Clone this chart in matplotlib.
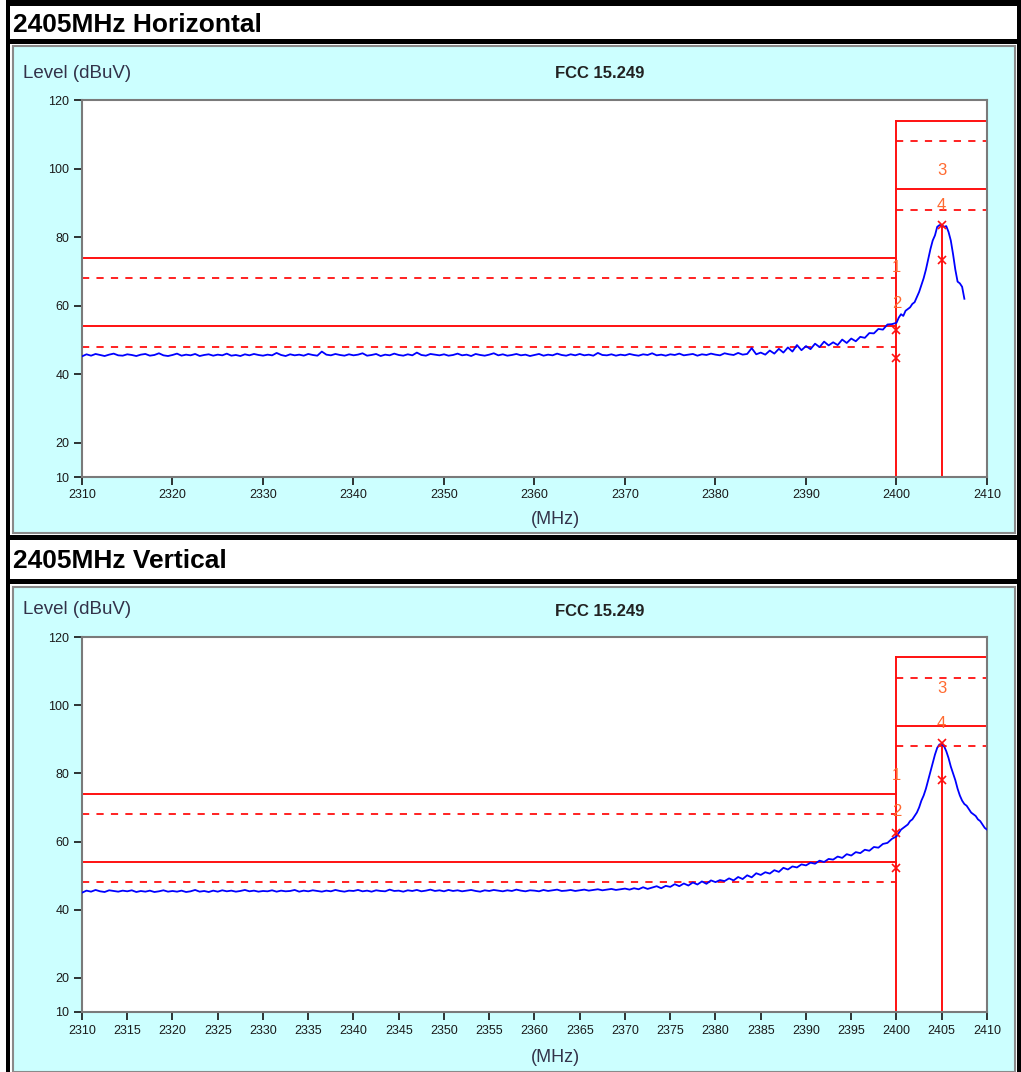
import numpy as np
import matplotlib
matplotlib.use('Agg')
import matplotlib.pyplot as plt
from matplotlib.patches import Rectangle

# ---- data ----
titles = ['2405MHz Horizontal', '2405MHz Vertical']
x_ticks_top = [2310, 2320, 2330, 2340, 2350, 2360, 2370, 2380, 2390, 2400, 2410]
x_ticks_bot = list(range(2310, 2411, 5))
y_ticks = [10, 20, 40, 60, 80, 100, 120]

# limit lines (dBuV): restricted band (2310-2400) and fundamental (2400-2410)
band_limits = [74, 54]
band_margins = [68, 48]
fund_limits = [114, 94]
fund_margins = [108, 88]

# trace, horizontal: 0.5 MHz steps 2310..2399.5, then 0.25 MHz steps 2400..2407.5
horiz_low = [
    45.2, 45.8, 45.4, 45.9, 45.6, 45.3, 45.7, 46.0, 45.5, 45.4,
    45.8, 45.6, 45.3, 45.7, 45.9, 45.4, 45.6, 46.1, 45.5, 45.3,
    45.6, 46.0, 45.4, 45.7, 45.5, 45.9, 45.3, 45.6, 45.8, 45.4,
    45.7, 45.5, 46.0, 45.4, 45.6, 45.3, 45.8, 45.5, 45.9, 45.6,
    45.4, 45.7, 45.5, 46.2, 45.6, 45.3, 45.8, 45.5, 45.7, 45.4,
    45.9, 45.6, 45.4, 46.6, 45.7, 45.5, 45.9, 45.6, 45.4, 45.8,
    45.5, 45.7, 46.1, 45.4, 45.6, 45.9, 45.3, 45.7, 45.5, 46.0,
    45.6, 45.4, 45.8, 45.5, 46.3, 45.6, 45.4, 45.9, 45.7, 45.5,
    45.8, 45.4, 45.6, 46.0, 45.5, 45.7, 45.3, 45.9, 45.6, 45.4,
    45.7, 46.1, 45.5, 45.8, 45.4, 45.6, 45.9, 45.5, 45.7, 45.3,
    45.6, 45.9, 45.4, 45.7, 45.5, 46.0, 45.6, 45.4, 45.8, 45.5,
    45.9, 45.5, 45.7, 45.4, 46.2, 45.6, 45.5, 45.8, 45.4, 45.7,
    45.5, 45.9, 45.6, 45.4, 45.8, 45.6, 46.1, 45.5, 45.7, 45.4,
    45.8, 45.6, 46.0, 45.5, 45.7, 45.9, 45.4, 45.8, 45.6, 46.0,
    45.7, 45.5, 46.1, 45.8, 45.6, 46.2, 45.7, 45.9, 47.6, 45.8,
    46.3, 45.7, 46.9, 46.0, 47.4, 46.3, 47.8, 46.6, 48.5, 47.0,
    48.2, 47.3, 48.9, 47.9, 49.5, 48.4, 49.3, 48.5, 50.1, 49.1,
    50.4, 49.6, 50.9, 50.6, 52.0, 51.9, 53.2, 53.0, 54.5, 54.6,
]
horiz_high = [
    55.0, 56.5, 57.5, 57.0, 58.5, 59.0, 59.5, 60.5, 61.0, 62.5,
    64.0, 66.0, 68.0, 70.5, 73.5, 76.5, 79.0, 80.5, 83.0, 83.5,
    83.5, 83.0, 83.2, 81.5, 79.0, 75.0, 70.5, 67.0, 66.5, 65.5,
    62.0,
]

# trace, vertical: same grid, high part runs to 2410
vert_low = [
    45.0, 45.6, 45.3, 45.8, 45.4, 45.2, 45.7, 45.5, 45.3, 45.6,
    45.4, 45.7, 45.2, 45.5, 45.3, 45.6, 45.2, 45.4, 45.7, 45.3,
    45.5, 45.3, 45.6, 45.2, 45.4, 45.8, 45.3, 45.5, 45.2, 45.6,
    45.3, 45.7, 45.4, 45.6, 45.3, 45.5, 45.8, 45.4, 45.6, 45.3,
    45.5, 45.4, 45.7, 45.3, 45.6, 45.4, 45.5, 45.8, 45.3, 45.6,
    45.4, 45.7, 45.5, 45.3, 45.6, 45.4, 45.8, 45.5, 45.3, 45.6,
    45.5, 45.8, 45.4, 45.6, 45.3, 45.7, 45.5, 45.4, 45.9, 45.5,
    45.6, 45.3, 45.7, 45.5, 45.8, 45.4, 45.6, 45.9, 45.5, 45.7,
    45.4, 45.8, 45.5, 45.7, 45.4, 45.6, 45.8, 45.5, 45.3, 45.7,
    45.5, 45.8, 45.6, 45.4, 45.7, 45.5, 45.9, 45.6, 45.4, 45.7,
    45.6, 45.4, 45.8, 45.5, 45.7, 45.9, 45.5, 45.6, 45.8, 45.5,
    45.7, 45.9, 45.6, 45.8, 46.0, 45.7, 45.9, 46.1, 45.8, 46.0,
    46.2, 45.9, 46.3, 46.0, 46.6, 46.1, 46.5, 46.9, 46.3, 47.0,
    46.7, 47.5, 46.9, 47.7, 47.1, 48.0, 47.4, 48.3, 47.6, 48.6,
    48.1, 48.7, 48.4, 49.2, 48.6, 49.6, 49.0, 50.1, 49.5, 50.7,
    50.2, 51.0, 50.6, 51.6, 51.1, 52.3, 51.8, 52.7, 52.4, 53.3,
    53.0, 53.8, 53.5, 54.4, 54.0, 54.9, 54.7, 55.6, 55.2, 56.3,
    55.9, 56.9, 56.6, 57.6, 57.3, 58.4, 58.2, 59.3, 59.6, 60.8,
]
vert_high = [
    61.5, 62.5, 63.5, 64.0, 64.5, 65.0, 66.0, 66.5, 67.5, 68.5,
    70.0, 72.0, 73.5, 75.5, 78.0, 80.5, 83.0, 85.5, 87.5, 88.5,
    88.5, 88.0, 86.5, 84.5, 82.0, 80.0, 78.0, 75.5, 73.5, 72.0,
    71.0, 70.5, 69.5, 68.5, 68.0, 67.5, 66.5, 66.0, 65.0, 64.0,
    63.5,
]

# markers (freq, level) and their number labels
horiz_marks = [(2400, 53.0), (2400, 44.7), (2405, 83.5), (2405, 73.2)]
horiz_labels = [(2400, 71.0, '1'), (2400, 60.5, '2'), (2405, 99.5, '3'), (2405, 89.2, '4')]
vert_marks = [(2400, 62.5), (2400, 52.3), (2405, 89.0), (2405, 78.0)]
vert_labels = [(2400, 79.5, '1'), (2400, 68.7, '2'), (2405, 105.0, '3'), (2405, 94.5, '4')]

W, H = 1021, 1072
FONT = 'Liberation Sans'
CYAN = '#ccffff'
RED = '#ff1010'
LBL = '#ff6a30'


def box(fig, x0, y0, x1, y1, color, edge=None, lw=0):
    """rectangle in pixel coords (y down)"""
    r = Rectangle((x0 / W, 1 - y1 / H), (x1 - x0) / W, (y1 - y0) / H,
                  transform=fig.transFigure, facecolor=color,
                  edgecolor=edge if edge else color, linewidth=lw, zorder=0)
    fig.add_artist(r)


def panel(fig, ax_top, ax_bot, ticks, freq, level, marks, labels):
    ax = fig.add_axes([82 / W, 1 - ax_bot / H, (987 - 82) / W, (ax_bot - ax_top) / H])
    ax.set_facecolor('white')
    ax.set_xlim(2310, 2410)
    ax.set_ylim(10, 120)
    for s in ax.spines.values():
        s.set_color('#7a7a7a')
        s.set_linewidth(1.5)
    ax.set_xticks(ticks)
    ax.set_yticks(y_ticks)
    ax.tick_params(direction='out', length=6, width=1.2, color='#111111',
                   labelsize=9, labelcolor='#1a1a1a', pad=3)
    for t in ax.get_xticklabels() + ax.get_yticklabels():
        t.set_fontfamily(FONT)

    # limit lines
    for v in band_limits:
        ax.plot([2310, 2400], [v, v], color=RED, lw=1.4)
    for v in band_margins:
        ax.plot([2310, 2400], [v, v], color=RED, lw=1.3, ls=(0, (4, 4)))
    for v in fund_limits:
        ax.plot([2400, 2410], [v, v], color=RED, lw=1.4)
    for v in fund_margins:
        ax.plot([2400, 2410], [v, v], color=RED, lw=1.3, ls=(0, (4, 4)))
    ax.plot([2400, 2400], [10, fund_limits[0]], color=RED, lw=1.4)
    ax.plot([2405, 2405], [10, marks[2][1]], color=RED, lw=1.4)

    ax.plot(freq, level, color='#0000ff', lw=1.3, zorder=3)

    for f, v in marks:
        ax.plot(f, v, marker='x', color=RED, ms=6, mew=1.2, zorder=4)
    for f, v, s in labels:
        ax.text(f, v, s, color=LBL, fontsize=12, ha='center', va='center',
                fontfamily=FONT, zorder=5)
    return ax


fig = plt.figure(figsize=(W / 100, H / 100), dpi=100)
fig.patch.set_facecolor('white')

# table frame
box(fig, 6, 0, 1021, 6, 'black')
box(fig, 6, 0, 10, H, 'black')
box(fig, 1017, 0, 1021, H, 'black')
box(fig, 6, 39, 1021, 44, 'black')
box(fig, 6, 535, 1021, 540, 'black')
box(fig, 6, 579, 1021, 584, 'black')

# cyan chart panels
box(fig, 13, 46, 1015, 533, CYAN, edge='#8a8a8a', lw=1.5)
box(fig, 13, 587, 1015, 1072, CYAN, edge='#8a8a8a', lw=1.5)

fig.text(13 / W, 1 - 25 / H, titles[0], fontsize=19, fontweight='bold',
         fontfamily=FONT, va='center', ha='left')
fig.text(13 / W, 1 - 561 / H, titles[1], fontsize=19, fontweight='bold',
         fontfamily=FONT, va='center', ha='left')

freq_h = np.concatenate([np.arange(2310, 2400, 0.5), np.arange(2400, 2407.51, 0.25)])
freq_v = np.concatenate([np.arange(2310, 2400, 0.5), np.arange(2400, 2410.01, 0.25)])
lev_h = horiz_low + horiz_high
lev_v = vert_low + vert_high

for (top, bot, oy), ticks, fr, lv, mk, lb in [
        ((100, 477, 0), x_ticks_top, freq_h, lev_h, horiz_marks, horiz_labels),
        ((637, 1012, 537), x_ticks_bot, freq_v, lev_v, vert_marks, vert_labels)]:
    panel(fig, top, bot, ticks, fr, lv, mk, lb)
    fig.text(23 / W, 1 - (73 + oy) / H, 'Level (dBuV)', fontsize=13.5,
             color='#33334a', fontfamily=FONT, va='center', ha='left')
    fig.text(600 / W, 1 - (74 + oy) / H, 'FCC 15.249', fontsize=12,
             fontweight='bold', color='#222222', fontfamily=FONT,
             va='center', ha='center')
    fig.text(555 / W, 1 - (520 + oy) / H, '(MHz)', fontsize=13,
             color='#33334a', fontfamily=FONT, va='center', ha='center')

fig.savefig('out.png', dpi=100)
